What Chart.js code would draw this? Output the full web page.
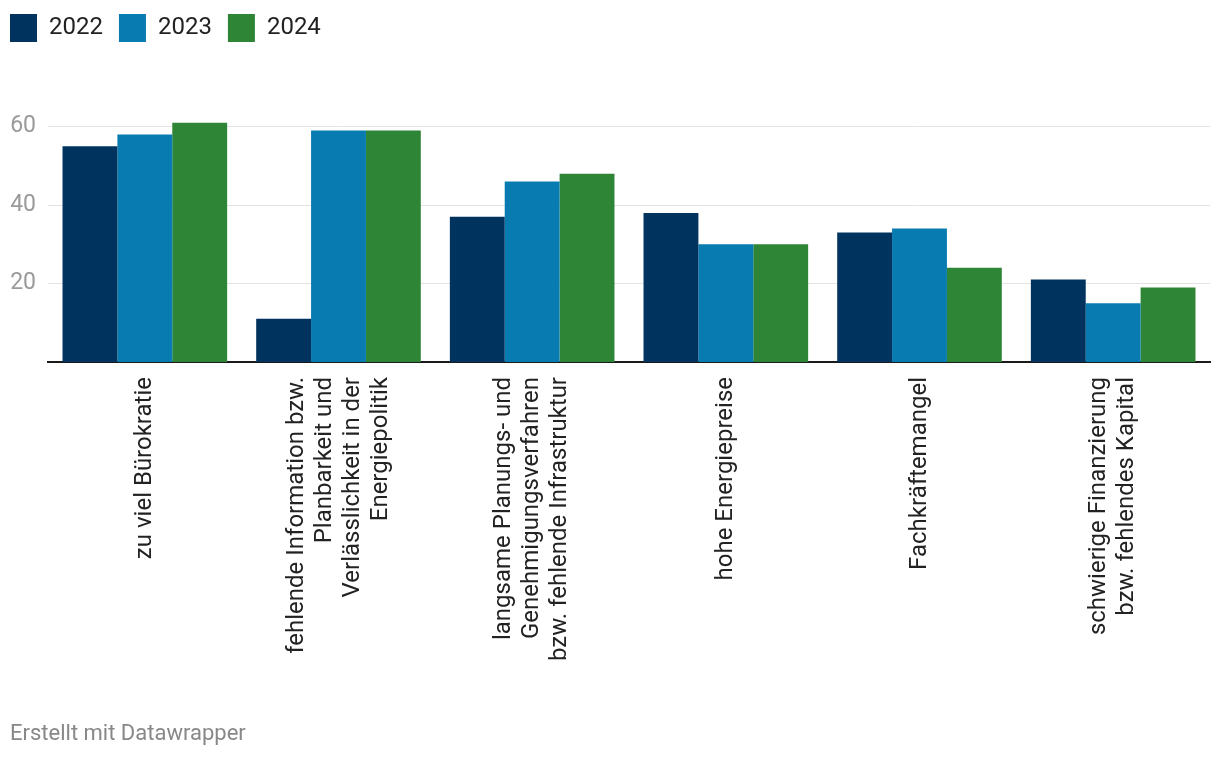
<!DOCTYPE html>
<html>
<head>
<meta charset="utf-8">
<script src="https://cdn.jsdelivr.net/npm/chart.js@4/dist/chart.umd.min.js"></script>
<style>
  html,body{margin:0;padding:0;background:#fff;}
  #wrap{position:relative;width:1220px;height:760px;}
  #c{position:absolute;left:0;top:0;}
  #footer{position:absolute;left:10px;top:720px;font-family:Roboto,sans-serif;font-size:22px;color:#888;}
</style>
</head>
<body>
<div id="wrap">
<canvas id="c" width="1220" height="760"></canvas>
<div id="footer">Erstellt mit Datawrapper</div>
</div>
<script>
const categories = [
  ["zu viel Bürokratie"],
  ["fehlende Information bzw.", "Planbarkeit und", "Verlässlichkeit in der", "Energiepolitik"],
  ["langsame Planungs- und", "Genehmigungsverfahren", "bzw. fehlende Infrastruktur"],
  ["hohe Energiepreise"],
  ["Fachkräftemangel"],
  ["schwierige Finanzierung", "bzw. fehlendes Kapital"]
];
const seriesNames = ["2022", "2023", "2024"];
const values2022 = [55, 11, 37, 38, 33, 21];
const values2023 = [58, 59, 46, 30, 34, 15];
const values2024 = [61, 59, 48, 30, 24, 19];
const yTicks = [20, 40, 60];
const colors = ["#00345f", "#087cb0", "#2e8536"];

const xLabelPlugin = {
  id: 'xLabels',
  afterDraw(chart) {
    const ctx = chart.ctx;
    const xs = chart.scales.x;
    const top = chart.chartArea.bottom + 15;
    const lh = 28;
    ctx.save();
    ctx.font = '24px Roboto, sans-serif';
    ctx.fillStyle = '#222';
    ctx.textAlign = 'right';
    ctx.textBaseline = 'middle';
    categories.forEach((lines, i) => {
      const cx = xs.getPixelForValue(i);
      const n = lines.length;
      lines.forEach((ln, j) => {
        const x = cx + (j - (n - 1) / 2) * lh;
        ctx.save();
        ctx.translate(x, top);
        ctx.rotate(-Math.PI / 2);
        ctx.fillText(ln, 0, 0);
        ctx.restore();
      });
    });
    ctx.restore();
  }
};

new Chart(document.getElementById('c'), {
  type: 'bar',
  data: {
    labels: categories.map(l => l.join(' ')),
    datasets: [
      {label: seriesNames[0], data: values2022, backgroundColor: colors[0]},
      {label: seriesNames[1], data: values2023, backgroundColor: colors[1]},
      {label: seriesNames[2], data: values2024, backgroundColor: colors[2]}
    ]
  },
  options: {
    responsive: false,
    animation: false,
    layout: {padding: {left: -6, right: 10, top: -2, bottom: 0}},
    datasets: {bar: {barPercentage: 1, categoryPercentage: 0.85}},
    plugins: {
      legend: {
        position: 'top',
        align: 'start',
        labels: {
          boxWidth: 27, boxHeight: 28, padding: 16,
          color: '#222',
          font: {family: 'Roboto', size: 24}
        }
      },
      tooltip: {enabled: false}
    },
    scales: {
      x: {
        grid: {display: false, drawTicks: false},
        border: {display: true, color: '#1a1a1a', width: 2},
        ticks: {display: false},
        afterFit(scale) { scale.height = 398; }
      },
      y: {
        min: 0, max: 79,
        grid: {color: '#e3e3e3', lineWidth: 1, drawTicks: false},
        border: {display: false},
        afterBuildTicks(scale) { scale.ticks = yTicks.map(v => ({value: v})); },
        afterFit(scale) { scale.width = 54; },
        ticks: {
          padding: 12,
          color: '#9a9a9a',
          font: {family: 'Roboto', size: 23}
        }
      }
    }
  },
  plugins: [xLabelPlugin]
});
</script>
</body>
</html>
